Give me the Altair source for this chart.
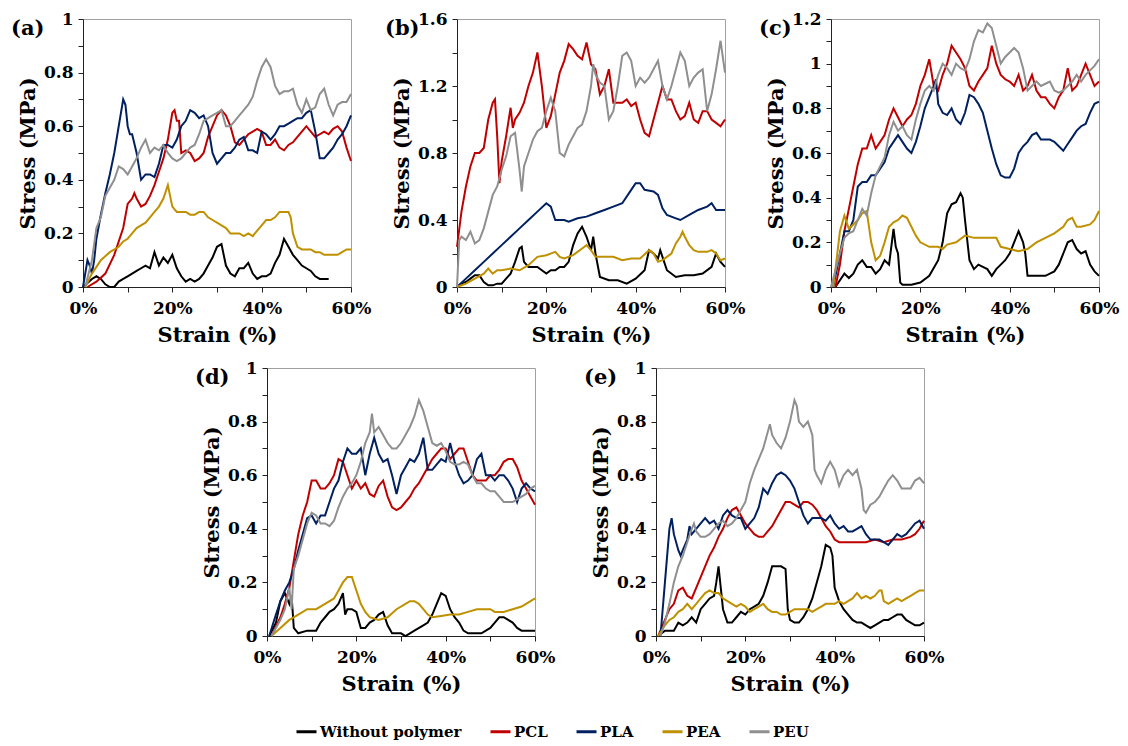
import altair as alt
import pandas as pd

SERIES = ["Without polymer", "PCL", "PLA", "PEA", "PEU"]
COLORS = ["#000000", "#C00000", "#002060", "#BF9000", "#8F8F8F"]

X_TICKS = [0, 10, 20, 30, 40, 50, 60]
Y_TICKS_1 = [0, 0.1, 0.2, 0.3, 0.4, 0.5, 0.6, 0.7, 0.8, 0.9, 1.0]
Y_TICKS_16 = [0, 0.2, 0.4, 0.6, 0.8, 1.0, 1.2, 1.4, 1.6]
Y_TICKS_12 = [0, 0.1, 0.2, 0.3, 0.4, 0.5, 0.6, 0.7, 0.8, 0.9, 1.0, 1.1, 1.2]

# ---------------- panel (a) ----------------
A_NONE = [(0,0),(2,0.03),(3,0.04),(4,0.03),(5,0.01),(6,0),(7,0),(8,0.02),(9,0.03),(10,0.04),(11,0.05),(12,0.06),(13,0.07),(14,0.08),(15,0.07),(16,0.13),(17,0.08),(18,0.11),(19,0.09),(20,0.12),(21,0.07),(22,0.04),(23,0.02),(24,0.03),(25,0.02),(26,0.03),(27,0.05),(28,0.08),(29,0.11),(30,0.15),(31,0.16),(32,0.08),(33,0.05),(34,0.04),(35,0.07),(36,0.07),(37,0.09),(38,0.05),(39,0.03),(40,0.04),(41,0.04),(42,0.05),(43,0.09),(44,0.12),(45,0.18),(46,0.15),(47,0.12),(48,0.10),(49,0.08),(50,0.07),(51,0.06),(52,0.04),(53,0.03),(54,0.03),(55,0.03)]
A_PCL = [(1,0),(3,0.02),(5,0.05),(7,0.12),(9,0.22),(10,0.31),(11,0.33),(11.5,0.35),(12,0.33),(13,0.30),(14,0.31),(15,0.34),(16,0.38),(17,0.43),(18,0.48),(19,0.55),(20,0.65),(20.5,0.66),(21,0.62),(21.5,0.62),(22,0.50),(23,0.51),(24,0.50),(25,0.47),(26,0.48),(27,0.50),(28,0.56),(29,0.60),(30,0.64),(31,0.66),(32,0.64),(33,0.60),(34,0.54),(35,0.53),(36,0.55),(37,0.57),(38,0.58),(39,0.59),(40,0.58),(41,0.53),(42,0.53),(43,0.55),(44,0.52),(45,0.51),(46,0.53),(47,0.54),(48,0.56),(49,0.58),(50,0.60),(51,0.58),(52,0.56),(53,0.57),(54,0.58),(55,0.57),(56,0.59),(57,0.60),(58,0.58),(59,0.52),(60,0.47)]
A_PLA = [(0,0),(1,0.10),(1.5,0.08),(2,0.05),(2.5,0.10),(3,0.18),(4,0.27),(5,0.35),(6,0.42),(7,0.50),(8,0.60),(9,0.70),(9.5,0.68),(10,0.60),(10.5,0.57),(11,0.57),(12,0.50),(13,0.40),(14,0.42),(15,0.42),(16,0.41),(17,0.46),(18,0.53),(19,0.53),(20,0.52),(21,0.55),(22,0.60),(23,0.62),(24,0.66),(25,0.65),(26,0.63),(27,0.64),(28,0.60),(29,0.50),(30,0.46),(31,0.48),(32,0.50),(33,0.50),(34,0.52),(35,0.55),(36,0.56),(37,0.51),(38,0.51),(39,0.50),(40,0.58),(41,0.57),(42,0.55),(43,0.57),(44,0.60),(45,0.60),(46,0.61),(47,0.62),(48,0.63),(49,0.63),(50,0.65),(51,0.66),(52,0.58),(53,0.48),(54,0.48),(55,0.50),(56,0.52),(57,0.55),(58,0.57),(59,0.60),(60,0.64)]
A_PEA = [(0.5,0),(2,0.05),(4,0.10),(6,0.13),(8,0.15),(9,0.17),(10,0.18),(11,0.20),(12,0.22),(13,0.23),(14,0.24),(15,0.26),(16,0.28),(17,0.30),(18,0.33),(19,0.38),(19.5,0.34),(20,0.30),(21,0.28),(22,0.28),(23,0.28),(24,0.27),(25,0.27),(26,0.28),(27,0.28),(28,0.26),(29,0.25),(30,0.24),(31,0.23),(32,0.22),(33,0.20),(34,0.20),(35,0.20),(36,0.19),(37,0.20),(38,0.19),(39,0.21),(40,0.23),(41,0.25),(42,0.25),(43,0.26),(44,0.28),(45,0.28),(46,0.28),(46.5,0.26),(47,0.20),(48,0.15),(49,0.14),(50,0.14),(51,0.14),(52,0.13),(53,0.13),(54,0.12),(55,0.12),(56,0.12),(57,0.12),(58,0.13),(59,0.14),(60,0.14)]
A_PEU = [(0.5,0),(2,0.10),(3,0.22),(4,0.26),(5,0.34),(6,0.37),(7,0.40),(8,0.45),(9,0.44),(10,0.42),(11,0.45),(12,0.48),(13,0.52),(14,0.55),(15,0.50),(16,0.52),(17,0.51),(18,0.53),(19,0.50),(20,0.48),(21,0.47),(22,0.48),(23,0.50),(24,0.52),(25,0.53),(26,0.57),(27,0.62),(28,0.63),(29,0.64),(30,0.65),(31,0.66),(32,0.60),(33,0.60),(34,0.62),(35,0.64),(36,0.66),(37,0.68),(38,0.71),(39,0.77),(40,0.82),(41,0.85),(42,0.82),(43,0.75),(44,0.72),(45,0.73),(46,0.73),(47,0.74),(48,0.68),(49,0.65),(50,0.70),(51,0.66),(52,0.67),(53,0.72),(54,0.74),(55,0.68),(56,0.64),(57,0.68),(58,0.69),(59,0.69),(60,0.72)]

# ---------------- panel (b) ----------------
B_NONE = [(0,0),(1,0.02),(2,0.03),(3,0.05),(4,0.07),(5,0.07),(6,0.03),(7,0.01),(8,0.01),(9,0.02),(10,0.02),(11,0.05),(12,0.08),(13,0.15),(14,0.23),(14.5,0.24),(15,0.15),(16,0.12),(17,0.12),(18,0.12),(19,0.10),(20,0.08),(21,0.10),(22,0.10),(23,0.12),(24,0.12),(25,0.15),(26,0.25),(27,0.32),(28,0.36),(29,0.30),(30,0.22),(30.5,0.30),(31,0.20),(32,0.06),(34,0.04),(36,0.04),(38,0.02),(40,0.05),(42,0.10),(43,0.22),(44,0.20),(45,0.17),(45.5,0.22),(46,0.18),(47,0.10),(49,0.06),(51,0.07),(53,0.07),(55,0.08),(57,0.12),(58,0.20),(59,0.15),(60,0.12)]
B_PCL = [(0,0.24),(1,0.45),(2,0.60),(3,0.72),(4,0.80),(5,0.80),(6,0.83),(7,1.00),(8,1.10),(8.5,1.12),(9,0.90),(9.5,0.62),(10,0.75),(11,0.90),(12,1.07),(12.5,0.95),(13,1.00),(14,1.04),(15,1.10),(16,1.20),(17,1.28),(18,1.40),(19,1.20),(20,0.95),(21,1.02),(22,1.15),(23,1.28),(24,1.35),(25,1.45),(26,1.42),(27,1.38),(28,1.36),(29,1.46),(30,1.33),(31,1.30),(32,1.15),(33,1.20),(34,1.30),(35,1.10),(36,1.10),(37,1.10),(38,1.12),(39,1.08),(40,1.10),(41,1.00),(42,0.92),(43,0.90),(44,1.00),(45,1.10),(46,1.20),(47,1.12),(48,1.12),(49,1.05),(50,1.00),(51,1.02),(52,1.10),(53,1.00),(54,0.98),(55,1.05),(56,1.05),(57,1.00),(58,0.98),(59,0.96),(60,1.00)]
B_PLA = [(0,0),(2,0.05),(4,0.10),(6,0.15),(8,0.20),(10,0.25),(12,0.30),(14,0.35),(16,0.40),(18,0.45),(20,0.50),(21,0.48),(22,0.40),(24,0.40),(25,0.39),(27,0.41),(29,0.42),(31,0.44),(33,0.46),(35,0.48),(37,0.50),(39,0.58),(40,0.62),(41,0.62),(42,0.58),(44,0.57),(45,0.55),(46,0.47),(47,0.43),(49,0.41),(50,0.40),(52,0.43),(54,0.46),(56,0.48),(57,0.50),(58,0.46),(60,0.46)]
B_PEA = [(0,0),(2,0.02),(4,0.05),(6,0.08),(7,0.11),(8,0.08),(9,0.10),(10,0.10),(12,0.11),(14,0.10),(16,0.13),(18,0.18),(20,0.19),(22,0.21),(23,0.18),(24,0.17),(26,0.19),(28,0.23),(29,0.25),(30,0.22),(31,0.18),(33,0.18),(35,0.18),(37,0.16),(39,0.17),(41,0.17),(43,0.22),(44,0.20),(45,0.15),(46,0.16),(47,0.18),(48,0.20),(49,0.26),(50,0.30),(50.5,0.33),(51,0.30),(52,0.25),(53,0.22),(54,0.21),(56,0.21),(57,0.22),(58,0.20),(59,0.16),(60,0.17)]
B_PEU = [(0,0),(0.5,0.28),(1,0.30),(2,0.28),(3,0.33),(4,0.26),(5,0.28),(6,0.35),(7,0.45),(8,0.55),(9,0.60),(10,0.70),(11,0.78),(12,0.90),(13,0.92),(14,0.70),(14.5,0.57),(15,0.72),(16,0.80),(17,0.88),(18,0.93),(19,0.95),(20,1.05),(21,1.13),(22,1.05),(23,0.80),(24,0.78),(25,0.85),(26,0.90),(27,0.95),(28,0.97),(29,1.05),(30,1.20),(30.5,1.33),(31,1.27),(32,1.22),(33,1.20),(34,1.00),(35,1.05),(36,1.20),(37,1.38),(38,1.40),(39,1.35),(40,1.20),(41,1.25),(42,1.22),(43,1.25),(44,1.30),(45,1.35),(46,1.20),(47,1.12),(48,1.20),(49,1.30),(50,1.40),(51,1.35),(52,1.20),(53,1.25),(54,1.28),(55,1.30),(56,1.05),(57,1.15),(58,1.30),(59,1.47),(60,1.28)]

# ---------------- panel (c) ----------------
C_NONE = [(1,0),(2,0.03),(3,0.06),(4,0.04),(5,0.06),(6,0.10),(7,0.12),(8,0.09),(9,0.09),(10,0.06),(11,0.08),(12,0.12),(13,0.10),(14,0.26),(14.5,0.18),(15,0.15),(15.5,0.02),(16,0.01),(18,0.01),(20,0.02),(22,0.05),(24,0.12),(25,0.20),(26,0.33),(27,0.37),(28,0.38),(29,0.42),(29.5,0.40),(30,0.30),(31,0.12),(32,0.08),(33,0.10),(34,0.09),(35,0.08),(36,0.05),(37,0.08),(38,0.10),(39,0.12),(40,0.15),(41,0.20),(42,0.25),(43,0.20),(43.5,0.15),(44,0.05),(46,0.05),(48,0.05),(50,0.07),(51,0.10),(52,0.15),(53,0.20),(54,0.21),(55,0.17),(56,0.15),(57,0.16),(58,0.10),(59,0.07),(60,0.05)]
C_PCL = [(1,0),(2,0.10),(3,0.25),(4,0.35),(5,0.45),(6,0.55),(7,0.62),(8,0.62),(9,0.68),(10,0.62),(11,0.65),(12,0.68),(13,0.75),(14,0.80),(15,0.76),(16,0.72),(17,0.75),(18,0.77),(19,0.82),(20,0.90),(21,0.95),(22,1.02),(23,0.90),(24,0.88),(25,0.95),(26,1.00),(27,1.08),(28,1.05),(29,1.02),(30,0.98),(31,0.90),(32,0.88),(33,0.92),(34,0.95),(35,0.98),(36,1.08),(37,1.00),(38,0.95),(39,0.93),(40,0.92),(41,0.90),(42,0.95),(43,0.88),(44,0.90),(45,0.95),(46,0.88),(47,0.85),(48,0.85),(49,0.82),(50,0.80),(51,0.85),(52,0.88),(53,0.98),(54,0.88),(55,0.90),(56,0.95),(57,1.00),(58,0.95),(59,0.90),(60,0.92)]
C_PLA = [(0.5,0),(2,0.15),(3,0.25),(4,0.25),(5,0.30),(6,0.45),(7,0.47),(8,0.47),(9,0.50),(10,0.50),(11,0.53),(12,0.56),(13,0.62),(14,0.65),(15,0.68),(16,0.65),(17,0.62),(18,0.60),(19,0.65),(20,0.72),(21,0.80),(22,0.85),(23,0.90),(23.5,0.93),(24,0.82),(25,0.78),(26,0.77),(27,0.80),(28,0.75),(29,0.73),(30,0.78),(31,0.86),(32,0.85),(33,0.82),(34,0.78),(35,0.70),(36,0.62),(37,0.55),(38,0.50),(39,0.49),(40,0.49),(41,0.53),(42,0.60),(43,0.63),(44,0.65),(45,0.68),(46,0.69),(47,0.66),(48,0.66),(49,0.66),(50,0.65),(51,0.63),(52,0.61),(53,0.64),(54,0.67),(55,0.70),(56,0.72),(57,0.73),(58,0.78),(59,0.82),(60,0.83)]
C_PEA = [(0.5,0),(1,0.08),(2,0.25),(3,0.32),(4,0.26),(5,0.28),(6,0.30),(7,0.33),(8,0.34),(9,0.20),(10,0.12),(11,0.14),(12,0.20),(13,0.27),(14,0.29),(15,0.30),(16,0.32),(17,0.31),(18,0.27),(19,0.23),(20,0.20),(22,0.18),(24,0.18),(25,0.17),(26,0.19),(28,0.20),(30,0.23),(32,0.22),(34,0.22),(36,0.22),(37,0.22),(38,0.18),(40,0.17),(42,0.16),(44,0.17),(46,0.20),(48,0.22),(50,0.24),(52,0.27),(53,0.30),(54,0.31),(55,0.27),(56,0.27),(58,0.28),(59,0.30),(60,0.34)]
C_PEU = [(0,0),(2,0.15),(3,0.22),(4,0.24),(5,0.25),(6,0.30),(7,0.35),(8,0.32),(9,0.42),(10,0.50),(11,0.54),(12,0.58),(13,0.68),(14,0.74),(15,0.70),(16,0.72),(17,0.68),(18,0.66),(19,0.75),(20,0.82),(21,0.88),(22,0.90),(23,0.88),(24,0.95),(25,1.00),(26,0.98),(27,0.95),(28,1.00),(29,0.98),(30,0.97),(31,1.02),(32,1.10),(33,1.15),(34,1.14),(35,1.18),(36,1.16),(37,1.08),(38,1.00),(39,1.03),(40,1.05),(41,1.07),(42,1.05),(43,0.98),(44,0.88),(45,0.90),(46,0.92),(47,0.90),(48,0.91),(49,0.92),(50,0.88),(51,0.87),(52,0.88),(53,0.90),(54,0.92),(55,0.95),(56,0.92),(57,0.95),(58,0.97),(59,0.99),(60,1.02)]

# ---------------- panel (d) ----------------
D_NONE = [(0.5,0),(2,0.05),(3,0.13),(4,0.16),(5,0.12),(5.5,0.15),(6,0.03),(7,0.01),(9,0.02),(11,0.02),(12,0.05),(13,0.07),(14,0.09),(15,0.10),(16,0.12),(17,0.16),(17.5,0.08),(18,0.10),(19,0.10),(20,0.09),(21,0.03),(22,0.03),(23,0.05),(24,0.06),(25,0.08),(26,0.09),(27,0.04),(28,0.01),(30,0.01),(31,0),(32,0.01),(33,0.02),(35,0.04),(36,0.05),(37,0.08),(38,0.12),(39,0.16),(40,0.15),(41,0.10),(42,0.07),(43,0.05),(44,0.02),(45,0.01),(46,0.01),(48,0.01),(50,0.03),(51,0.05),(52,0.07),(53,0.07),(54,0.06),(55,0.05),(56,0.03),(57,0.02),(58,0.02),(60,0.02)]
D_PCL = [(1,0),(3,0.07),(4,0.12),(5,0.18),(6,0.28),(7,0.38),(8,0.45),(9,0.50),(10,0.58),(11,0.58),(12,0.55),(13,0.55),(14,0.57),(15,0.60),(16,0.66),(17,0.65),(18,0.60),(19,0.55),(20,0.58),(21,0.55),(22,0.57),(23,0.53),(24,0.52),(25,0.56),(26,0.58),(27,0.52),(28,0.48),(29,0.47),(30,0.48),(31,0.50),(32,0.52),(33,0.55),(34,0.57),(35,0.60),(36,0.63),(37,0.66),(38,0.68),(39,0.70),(40,0.70),(41,0.66),(42,0.68),(43,0.70),(44,0.70),(45,0.65),(46,0.60),(47,0.58),(48,0.58),(49,0.58),(50,0.60),(51,0.60),(52,0.62),(53,0.65),(54,0.66),(55,0.66),(56,0.63),(57,0.58),(58,0.55),(59,0.52),(60,0.49)]
D_PLA = [(0.5,0),(2,0.08),(3,0.13),(4,0.17),(5,0.20),(6,0.25),(7,0.32),(8,0.38),(9,0.44),(10,0.45),(11,0.42),(12,0.45),(13,0.45),(14,0.50),(15,0.55),(16,0.58),(17,0.65),(18,0.70),(19,0.68),(20,0.68),(21,0.70),(22,0.60),(23,0.68),(24,0.74),(25,0.68),(26,0.65),(27,0.66),(28,0.60),(29,0.53),(30,0.60),(31,0.63),(32,0.66),(33,0.65),(34,0.68),(35,0.74),(36,0.62),(37,0.62),(38,0.64),(39,0.66),(40,0.65),(41,0.72),(42,0.65),(43,0.60),(44,0.57),(45,0.58),(46,0.60),(47,0.66),(48,0.68),(49,0.60),(50,0.60),(51,0.58),(52,0.60),(53,0.60),(54,0.58),(55,0.55),(56,0.50),(57,0.55),(58,0.57),(59,0.55),(60,0.54)]
D_PEA = [(1,0),(3,0.03),(5,0.06),(7,0.08),(9,0.10),(11,0.10),(13,0.12),(15,0.14),(16,0.17),(17,0.20),(18,0.22),(19,0.22),(20,0.17),(21,0.12),(22,0.09),(23,0.07),(25,0.06),(27,0.07),(29,0.10),(31,0.12),(32,0.13),(33,0.13),(34,0.12),(35,0.10),(36,0.08),(37,0.07),(39,0.075),(41,0.08),(43,0.08),(45,0.09),(47,0.10),(49,0.10),(50,0.10),(51,0.09),(53,0.09),(55,0.10),(57,0.11),(59,0.13),(60,0.14)]
D_PEU = [(1,0),(3,0.06),(4,0.10),(5,0.18),(5.5,0.10),(6,0.25),(7,0.30),(8,0.36),(9,0.42),(10,0.46),(11,0.45),(12,0.42),(13,0.42),(14,0.41),(15,0.43),(16,0.48),(17,0.52),(18,0.55),(19,0.57),(20,0.60),(21,0.65),(22,0.72),(23,0.76),(23.5,0.83),(24,0.76),(25,0.78),(26,0.75),(27,0.72),(28,0.70),(29,0.70),(30,0.72),(31,0.75),(32,0.78),(33,0.82),(34,0.88),(35,0.84),(36,0.78),(37,0.72),(38,0.71),(39,0.72),(40,0.69),(41,0.65),(42,0.64),(43,0.64),(44,0.65),(45,0.64),(46,0.60),(47,0.57),(48,0.57),(49,0.55),(50,0.54),(51,0.54),(52,0.52),(53,0.50),(54,0.50),(55,0.50),(56,0.51),(57,0.52),(58,0.53),(59,0.55),(60,0.56)]

# ---------------- panel (e) ----------------
E_NONE = [(0.5,0),(2,0.02),(3,0.02),(4,0.02),(5,0.05),(6,0.04),(7,0.05),(8,0.07),(9,0.05),(10,0.10),(11,0.12),(12,0.14),(13,0.15),(13.5,0.20),(14,0.26),(14.5,0.18),(15,0.10),(16,0.05),(17,0.05),(18,0.07),(19,0.09),(20,0.08),(21,0.10),(22,0.11),(23,0.12),(24,0.15),(25,0.20),(26,0.26),(27,0.26),(28,0.26),(29,0.25),(29.5,0.10),(30,0.06),(31,0.05),(32,0.05),(33,0.07),(34,0.10),(35,0.14),(36,0.20),(37,0.26),(38,0.34),(39,0.33),(39.5,0.30),(40,0.18),(41,0.13),(42,0.10),(43,0.08),(44,0.06),(45,0.05),(46,0.05),(47,0.04),(48,0.03),(49,0.04),(50,0.05),(51,0.06),(52,0.06),(53,0.07),(54,0.08),(55,0.08),(56,0.06),(57,0.05),(58,0.04),(59,0.04),(60,0.05)]
E_PCL = [(0.5,0),(2,0.06),(3,0.10),(4,0.12),(5,0.17),(6,0.18),(7,0.15),(8,0.14),(9,0.18),(10,0.22),(11,0.26),(12,0.30),(13,0.33),(14,0.37),(15,0.40),(16,0.44),(17,0.47),(18,0.48),(19,0.45),(20,0.42),(21,0.40),(22,0.38),(23,0.37),(24,0.37),(25,0.39),(26,0.41),(27,0.44),(28,0.47),(29,0.50),(30,0.50),(31,0.49),(32,0.48),(33,0.50),(34,0.50),(35,0.49),(36,0.47),(37,0.44),(38,0.41),(39,0.39),(40,0.36),(41,0.35),(43,0.35),(45,0.35),(47,0.35),(49,0.36),(51,0.35),(53,0.36),(55,0.36),(57,0.37),(58,0.38),(59,0.40),(60,0.43)]
E_PLA = [(1,0),(2,0.20),(3,0.40),(3.5,0.44),(4,0.38),(5,0.32),(5.5,0.30),(6,0.32),(7,0.36),(7.5,0.41),(8,0.38),(9,0.40),(10,0.42),(11,0.44),(12,0.42),(13,0.43),(14,0.40),(15,0.45),(16,0.47),(17,0.45),(18,0.44),(19,0.44),(20,0.40),(21,0.42),(22,0.44),(23,0.48),(24,0.55),(25,0.53),(26,0.57),(27,0.60),(28,0.61),(29,0.60),(30,0.58),(31,0.55),(32,0.50),(33,0.45),(34,0.42),(35,0.44),(36,0.44),(37,0.44),(38,0.43),(39,0.45),(40,0.42),(41,0.40),(42,0.41),(43,0.39),(44,0.39),(45,0.40),(46,0.41),(47,0.38),(48,0.36),(49,0.36),(50,0.36),(51,0.35),(52,0.34),(53,0.36),(54,0.38),(55,0.37),(56,0.38),(57,0.40),(58,0.42),(59,0.43),(60,0.40)]
E_PEA = [(0.5,0),(2,0.04),(3,0.06),(4,0.07),(5,0.09),(6,0.10),(7,0.12),(8,0.10),(9,0.12),(10,0.14),(11,0.16),(12,0.17),(13,0.16),(14,0.16),(15,0.14),(16,0.13),(17,0.12),(18,0.11),(19,0.12),(20,0.11),(21,0.09),(22,0.10),(23,0.11),(24,0.12),(25,0.10),(26,0.09),(27,0.09),(28,0.08),(29,0.08),(30,0.09),(31,0.10),(32,0.10),(33,0.10),(34,0.10),(35,0.09),(36,0.10),(37,0.11),(38,0.12),(39,0.12),(40,0.12),(41,0.13),(42,0.12),(43,0.13),(44,0.14),(45,0.16),(46,0.14),(47,0.15),(48,0.14),(49,0.15),(50,0.17),(50.5,0.17),(51,0.13),(52,0.12),(53,0.13),(54,0.14),(55,0.13),(56,0.14),(57,0.15),(58,0.16),(59,0.17),(60,0.17)]
E_PEU = [(1,0),(2,0.05),(3,0.12),(4,0.20),(5,0.26),(6,0.30),(7,0.35),(8,0.40),(8.5,0.42),(9,0.39),(10,0.37),(11,0.37),(12,0.38),(13,0.40),(14,0.42),(15,0.43),(16,0.41),(17,0.42),(18,0.44),(19,0.47),(20,0.50),(21,0.57),(22,0.62),(23,0.66),(24,0.70),(25,0.76),(25.5,0.79),(26,0.75),(27,0.72),(28,0.70),(29,0.74),(30,0.80),(31,0.88),(31.5,0.86),(32,0.80),(33,0.78),(34,0.80),(35,0.75),(35.5,0.62),(36,0.60),(37,0.57),(38,0.62),(39,0.65),(40,0.62),(41,0.56),(42,0.60),(43,0.62),(44,0.60),(45,0.62),(46,0.55),(46.5,0.47),(47,0.46),(48,0.49),(49,0.50),(50,0.52),(51,0.55),(52,0.58),(53,0.60),(54,0.58),(55,0.55),(56,0.55),(57,0.55),(58,0.58),(59,0.59),(60,0.57)]

FONT = "DejaVu Serif"

LEGEND = alt.Legend(
    title=None, orient="none", legendX=212, legendY=701, direction="horizontal",
    columns=5, symbolType="stroke", symbolSize=400, symbolStrokeWidth=3,
    labelFont=FONT, labelFontSize=15, labelFontWeight="bold", labelColor="#000",
    columnPadding=22, labelOffset=2, labelLimit=0,
)


def panel(tag, lists, ymax, yticks, label_every):
    rows = []
    for name, pts in zip(SERIES, lists):
        for x, y in pts:
            rows.append({"series": name, "strain": x, "stress": y})
    df = pd.DataFrame(rows)
    ylab = f"round(datum.value*10) % {label_every} == 0 ? format(datum.value, '.1~f') : ''"
    lines = alt.Chart(df).mark_line(strokeWidth=2).encode(
        x=alt.X("strain:Q", scale=alt.Scale(domain=[0, 60], nice=False),
                axis=alt.Axis(values=X_TICKS, title="Strain (%)",
                              labelExpr="datum.value % 20 == 0 ? datum.value + '%' : ''")),
        y=alt.Y("stress:Q", scale=alt.Scale(domain=[0, ymax], nice=False),
                axis=alt.Axis(values=yticks, title="Stress (MPa)", labelExpr=ylab)),
        color=alt.Color("series:N", scale=alt.Scale(domain=SERIES, range=COLORS), legend=LEGEND),
    )
    label = alt.Chart(pd.DataFrame({"t": [tag]})).mark_text(
        align="left", baseline="alphabetic", font=FONT, fontWeight="bold", fontSize=21, color="#000"
    ).encode(text="t:N", x=alt.value(-72), y=alt.value(16))
    return alt.layer(lines, label).properties(width=268, height=268)


pa = panel("(a)", [A_NONE, A_PCL, A_PLA, A_PEA, A_PEU], 1.0, Y_TICKS_1, 2)
pb = panel("(b)", [B_NONE, B_PCL, B_PLA, B_PEA, B_PEU], 1.6, Y_TICKS_16, 4)
pc = panel("(c)", [C_NONE, C_PCL, C_PLA, C_PEA, C_PEU], 1.2, Y_TICKS_12, 2)
pd_ = panel("(d)", [D_NONE, D_PCL, D_PLA, D_PEA, D_PEU], 1.0, Y_TICKS_1, 2)
pe = panel("(e)", [E_NONE, E_PCL, E_PLA, E_PEA, E_PEU], 1.0, Y_TICKS_1, 2)

spacer = alt.Chart(pd.DataFrame({"v": [0]})).mark_point(opacity=0).encode(
    x=alt.X("v:Q", axis=None), y=alt.Y("v:Q", axis=None)
).properties(width=63, height=268, view=alt.ViewBackground(strokeOpacity=0))

top = alt.hconcat(pa, pb, pc, spacing=106, bounds="flush")
bottom = alt.hconcat(spacer, pd_, pe, spacing=121, bounds="flush")

chart = alt.vconcat(top, bottom, spacing=12).properties(
    padding={"left": 2, "top": 1, "right": 0, "bottom": 0}
).configure_view(stroke="#A0A0A0", strokeWidth=1).configure_axis(
    grid=False, domainColor="#222", tickColor="#222", tickSize=5, domainWidth=1,
    labelFont=FONT, labelFontWeight="bold", labelFontSize=17, labelColor="#000",
    titleFont=FONT, titleFontWeight="bold", titleFontSize=21, titleColor="#000",
    labelFlush=False, labelOverlap=False, labelBound=False,
    labelPadding=5, titlePadding=5,
).configure_axisX(labelPadding=8, titlePadding=8)

chart.save("out.html", embed_options={"renderer": "svg", "actions": False})
